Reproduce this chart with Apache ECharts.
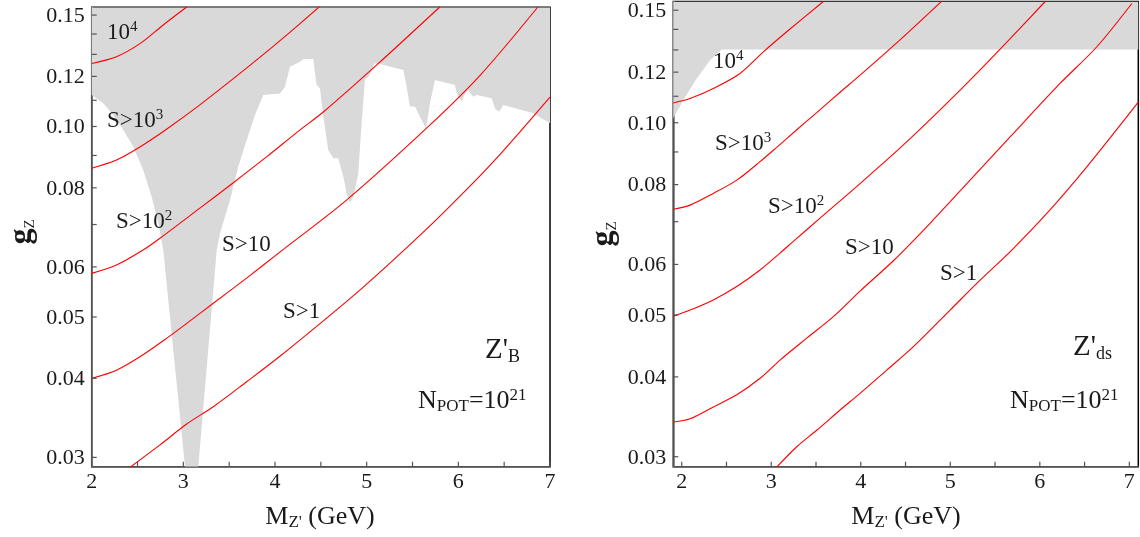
<!DOCTYPE html>
<html>
<head>
<meta charset="utf-8">
<script src="https://cdn.jsdelivr.net/npm/echarts@6/dist/echarts.min.js"></script>
<style>
  html, body { margin: 0; padding: 0; background: #fff; }
  #main { width: 1140px; height: 537px; }
</style>
</head>
<body>
<div id="main"></div>
<script>
// ---- data: [M_Z' (GeV), g_Z] ----

// left panel, Z'_B
const bExcluded = [[2.000,0.1121],[2.127,0.1088],[2.236,0.1043],[2.345,0.0987],[2.454,0.0929],[2.563,0.0853],[2.655,0.0774],[2.727,0.0703],[2.781,0.0638],[2.854,0.0500],[2.901,0.0427],[2.945,0.0370],[3.018,0.0290],
  [3.163,0.0290],[3.225,0.0370],[3.302,0.0500],[3.364,0.0638],[3.400,0.0678],[3.509,0.0765],[3.599,0.0864],[3.691,0.0952],[3.781,0.1043],[3.872,0.1121],[4.054,0.1128],[4.109,0.1156],[4.163,0.1243],[4.272,0.1266],[4.308,0.1277],[4.417,0.1278],
  [4.436,0.1213],[4.454,0.1163],[4.490,0.1149],[4.527,0.1036],[4.581,0.0918],[4.636,0.0891],[4.690,0.0891],[4.745,0.0833],[4.782,0.0784],[4.818,0.0758],[4.854,0.0774],[4.908,0.0843],[4.945,0.1012],[4.981,0.1184],[5.017,0.1198],[5.054,0.1220],[5.080,0.1258],[5.145,0.1255],
  [5.399,0.1228],[5.436,0.1156],[5.472,0.1075],[5.527,0.1075],[5.581,0.1036],[5.647,0.0993],[5.691,0.1088],[5.745,0.1184],[5.963,0.1163],[5.982,0.1128],[6.036,0.1094],[6.072,0.1128],[6.108,0.1142],[6.163,0.1114],[6.200,0.1121],[6.363,0.1108],[6.400,0.1068],[6.446,0.1055],[6.490,0.1081],[6.817,0.1049],[7.000,0.1012]];
const bS4 = [[2.00,0.1258],[2.27,0.1289],[2.53,0.1353],[2.78,0.1447],[3.04,0.1546]];
const bS3 = [[2.00,0.0859],[2.27,0.0885],[2.53,0.0929],[2.82,0.0991],[3.18,0.1082],[3.545,0.1190],[3.91,0.1313],[4.27,0.1453],[4.51,0.1558]];
const bS2 = [[2.00,0.0586],[2.27,0.0604],[2.56,0.0638],[2.745,0.0666],[3.18,0.0743],[3.545,0.0815],[3.91,0.0896],[4.27,0.0987],[4.53,0.1055],[5.11,0.1251],[5.80,0.1546]];
const bS1 = [[2.00,0.0400],[2.27,0.0412],[2.53,0.0433],[2.82,0.0463],[3.04,0.0489],[3.33,0.0526],[3.69,0.0576],[4.07,0.0636],[4.78,0.0765],[5.65,0.0993],[6.24,0.1206],[6.87,0.1546]];
const bS0 = [[2.40,0.0288],[2.745,0.0314],[3.04,0.0339],[3.33,0.0361],[3.69,0.0395],[4.05,0.0433],[4.49,0.0488],[4.96,0.0557],[5.44,0.0644],[5.88,0.0741],[6.38,0.0879],[7.00,0.1113]];

// right panel, Z'_ds
const dsExcluded = [[1.906,0.1016],[2.018,0.1085],[2.168,0.1173],[2.316,0.1253],[2.447,0.1302],[7.100,0.1302]];
const dsS4 = [[1.906,0.1074],[2.093,0.1091],[2.353,0.1131],[2.651,0.1194],[2.912,0.1291],[3.173,0.1388],[3.582,0.1548]];
const dsS3 = [[1.906,0.0732],[2.093,0.0743],[2.353,0.0775],[2.615,0.0813],[2.875,0.0869],[3.061,0.0915],[3.285,0.0975],[3.508,0.1037],[3.769,0.1116],[3.992,0.1187],[4.476,0.1363],[4.905,0.1550]];
const dsS2 = [[1.906,0.0498],[2.093,0.0509],[2.353,0.0528],[2.615,0.0554],[2.875,0.0588],[3.098,0.0625],[3.247,0.0652],[3.545,0.0709],[3.992,0.0803],[4.476,0.0923],[5.11,0.1125],[5.557,0.1304],[6.06,0.1548]];
const dsS1 = [[1.906,0.0340],[2.093,0.0344],[2.353,0.0359],[2.615,0.0375],[2.875,0.0398],[3.098,0.0425],[3.397,0.0460],[3.694,0.0497],[3.992,0.0545],[4.364,0.0608],[4.774,0.0696],[5.11,0.0782],[5.668,0.0950],[6.226,0.1152],[6.637,0.1315],[7.028,0.1537]];
const dsS0 = [[3.061,0.0289],[3.285,0.0311],[3.508,0.0330],[3.769,0.0355],[3.992,0.0377],[4.29,0.0410],[4.588,0.0446],[4.998,0.0509],[5.333,0.0567],[5.687,0.0632],[6.078,0.0721],[6.525,0.0853],[7.102,0.1078]];

// axes
const xTicks = [2, 2.5, 3, 3.5, 4, 4.5, 5, 5.5, 6, 6.5, 7];
const xTickLabels = ['2', '', '3', '', '4', '', '5', '', '6', '', '7'];
const yTicks = [0.03, 0.04, 0.05, 0.06, 0.07, 0.08, 0.09, 0.10, 0.11, 0.12, 0.13, 0.14, 0.15];
const yTickLabels = ['0.03', '0.04', '0.05', '0.06', '', '0.08', '', '0.10', '', '0.12', '', '', '0.15'];
const bRange = { xMin: 2, xMax: 7, yMin: 0.029, yMax: 0.1543 };
const dsRange = { xMin: 1.906, xMax: 7.1, yMin: 0.02894, yMax: 0.1548 };

const FONT = '"Liberation Serif", "DejaVu Serif", serif';
const TXT = '#1a1a1a';

const myChart = echarts.init(document.getElementById('main'), null, { renderer: 'canvas' });

const rich = {
  b: { fontFamily: FONT, fontSize: 23, color: TXT, lineHeight: 26 },
  sup: { fontFamily: FONT, fontSize: 15, color: TXT, verticalAlign: 'top', lineHeight: 15 },
  big: { fontFamily: FONT, fontSize: 29, color: TXT, lineHeight: 32 },
  bigsub: { fontFamily: FONT, fontSize: 18, color: TXT, verticalAlign: 'bottom', lineHeight: 18 },
  n: { fontFamily: FONT, fontSize: 26, color: TXT, lineHeight: 28 },
  nsub: { fontFamily: FONT, fontSize: 17, color: TXT, verticalAlign: 'bottom', lineHeight: 17 },
  nsup: { fontFamily: FONT, fontSize: 17, color: TXT, verticalAlign: 'top', lineHeight: 17 },
  g: { fontFamily: FONT, fontSize: 32, color: TXT, fontWeight: 'bold', lineHeight: 32 },
  gsub: { fontFamily: FONT, fontSize: 15, color: TXT, verticalAlign: 'bottom', lineHeight: 15 },
  m: { fontFamily: FONT, fontSize: 26, color: TXT, lineHeight: 28 },
  msub: { fontFamily: FONT, fontSize: 17, color: TXT, verticalAlign: 'bottom', lineHeight: 17 }
};

function label(x, y, text, align, rotation) {
  return {
    type: 'text', x: x, y: y, z: 100, silent: true, rotation: rotation || 0,
    style: { text: text, rich: rich, align: align || 'left', verticalAlign: 'middle', fill: TXT }
  };
}

// tick marks and tick labels drawn through the axes' own coordinates
function xTickRender(params, api) {
  const p = api.coord([api.value(0), api.value(1)]);
  const lab = xTickLabels[params.dataIndex];
  const children = [{
    type: 'line', shape: { x1: p[0], y1: p[1], x2: p[0], y2: p[1] - 5 },
    style: { stroke: '#555', lineWidth: 1.2 }
  }];
  if (lab) {
    children.push({
      type: 'text', x: p[0], y: p[1] + 16,
      style: { text: lab, font: '22px ' + FONT, fill: TXT, align: 'center', verticalAlign: 'middle' }
    });
  }
  return { type: 'group', children: children };
}

function yTickRender(params, api) {
  const p = api.coord([api.value(0), api.value(1)]);
  const lab = yTickLabels[params.dataIndex];
  const children = [{
    type: 'line', shape: { x1: p[0], y1: p[1], x2: p[0] + 5, y2: p[1] },
    style: { stroke: '#555', lineWidth: 1.2 }
  }];
  if (lab) {
    children.push({
      type: 'text', x: p[0] - 7, y: p[1] + 1,
      style: { text: lab, font: '22px ' + FONT, fill: TXT, align: 'right', verticalAlign: 'middle' }
    });
  }
  return { type: 'group', children: children };
}

function panelSeries(idx, excluded, curves, range) {
  const out = [];
  out.push({
    type: 'line', xAxisIndex: idx, yAxisIndex: idx, data: excluded,
    symbol: 'none', silent: true, z: 1,
    lineStyle: { width: 0 },
    areaStyle: { color: '#d9d9d9', opacity: 1, origin: 'end' }
  });
  curves.forEach(function (c) {
    out.push({
      type: 'line', xAxisIndex: idx, yAxisIndex: idx, data: c,
      symbol: 'none', silent: true, z: 3, smooth: 0.3,
      lineStyle: { color: '#ff0000', width: 1.1 }
    });
  });
  out.push({
    type: 'custom', xAxisIndex: idx, yAxisIndex: idx, z: 5, clip: false, silent: true,
    data: xTicks.map(function (v) { return [v, range.yMin]; }),
    renderItem: xTickRender
  });
  out.push({
    type: 'custom', xAxisIndex: idx, yAxisIndex: idx, z: 5, clip: false, silent: true,
    data: yTicks.map(function (v) { return [range.xMin, v]; }),
    renderItem: yTickRender
  });
  return out;
}

function xAxisFor(idx, range) {
  return {
    type: 'value', gridIndex: idx, min: range.xMin, max: range.xMax,
    axisLine: { show: true, onZero: false, lineStyle: { color: '#6e6e6e', width: 1.5 } },
    axisTick: { show: false }, axisLabel: { show: false }, splitLine: { show: false }
  };
}
function yAxisFor(idx, range) {
  return {
    type: 'log', gridIndex: idx, min: range.yMin, max: range.yMax,
    axisLine: { show: true, onZero: false, lineStyle: { color: '#6e6e6e', width: 1.5 } },
    axisTick: { show: false }, axisLabel: { show: false }, splitLine: { show: false }
  };
}

myChart.setOption({
  animation: false,
  backgroundColor: '#fff',
  grid: [
    { left: 91.7, top: 7.3, width: 458.3, height: 459.4, show: true, borderColor: '#000', borderWidth: 1.5, backgroundColor: '#fff' },
    { left: 673.3, top: 1.5, width: 465, height: 465.2, show: true, borderColor: '#000', borderWidth: 1.5, backgroundColor: '#fff' }
  ],
  xAxis: [xAxisFor(0, bRange), xAxisFor(1, dsRange)],
  yAxis: [yAxisFor(0, bRange), yAxisFor(1, dsRange)],
  series: panelSeries(0, bExcluded, [bS4, bS3, bS2, bS1, bS0], bRange)
    .concat(panelSeries(1, dsExcluded, [dsS4, dsS3, dsS2, dsS1, dsS0], dsRange)),
  graphic: {
    elements: [
      // left panel
      label(107, 33, '{b|10}{sup|4}'),
      label(107, 121, '{b|S>10}{sup|3}'),
      label(116, 222, '{b|S>10}{sup|2}'),
      label(222, 245, '{b|S>10}'),
      label(283, 312, '{b|S>1}'),
      label(485, 350, "{big|Z'}{bigsub|B}"),
      label(418, 401, '{n|N}{nsub|POT}{n|=10}{nsup|21}'),
      // right panel
      label(713, 62, '{b|10}{sup|4}'),
      label(715, 144, '{b|S>10}{sup|3}'),
      label(768, 207, '{b|S>10}{sup|2}'),
      label(845, 248, '{b|S>10}'),
      label(940, 274, '{b|S>1}'),
      label(1073, 347, "{big|Z'}{bigsub|ds}"),
      label(1010, 401, '{n|N}{nsub|POT}{n|=10}{nsup|21}'),
      // axis titles
      label(22, 232, '{g|g}{gsub|Z}', 'center', Math.PI / 2),
      label(604, 234, '{g|g}{gsub|Z}', 'center', Math.PI / 2),
      label(320, 517, "{m|M}{msub|Z'}{m| (GeV)}", 'center'),
      label(906, 517, "{m|M}{msub|Z'}{m| (GeV)}", 'center')
    ]
  }
});
</script>
</body>
</html>
